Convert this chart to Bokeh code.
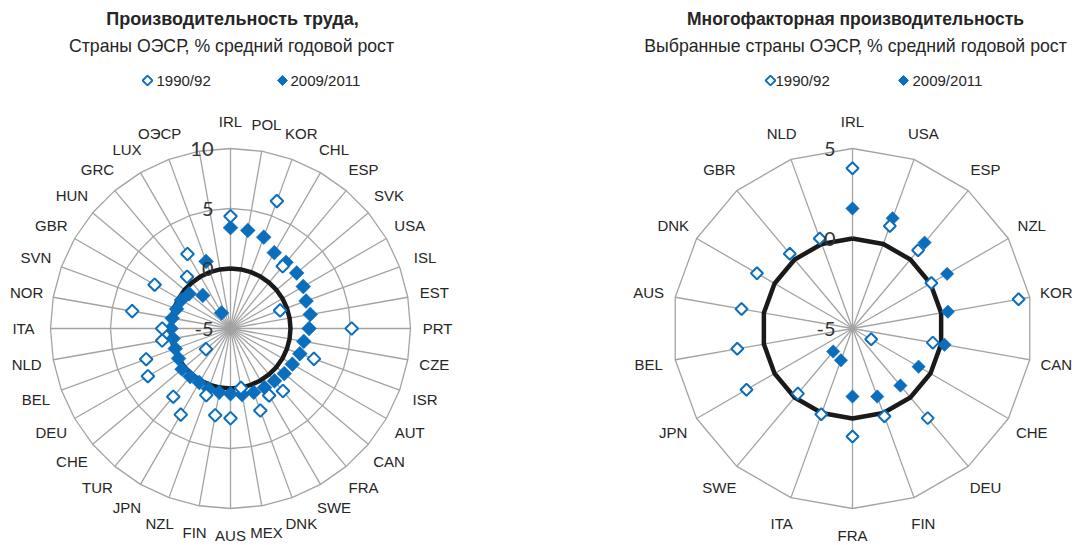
import math
import numpy as np
from bokeh.plotting import figure
from bokeh.layouts import row
from bokeh.models import Range1d, Label
from bokeh.core.properties import value
from bokeh.embed import file_html
from bokeh.resources import INLINE

# ---------------- data ----------------
LEFT_CATS = ["IRL", "POL", "KOR", "CHL", "ESP", "SVK", "USA", "ISL", "EST", "PRT",
             "CZE", "ISR", "AUT", "CAN", "FRA", "SWE", "DNK", "MEX", "AUS", "FIN",
             "NZL", "JPN", "TUR", "CHE", "DEU", "BEL", "NLD", "ITA", "NOR", "SVN",
             "GBR", "HUN", "GRC", "LUX", "ОЭСР", ""]
NAN = float("nan")
LEFT_1990 = [4.35, NAN, 6.3, NAN, 1.77, NAN, NAN, -0.6, NAN, 5.1,
             NAN, 2.4, NAN, NAN, 1.8, 1.44, 2.27, 0.03, 2.48, 2.34,
             0.91, 3.29, 2.42, -2.33, 2.95, 2.48, 0.78, 0.69, 3.32, NAN,
             2.3, NAN, 0.63, 2.17, NAN, NAN]
LEFT_2009 = [3.4, 3.3, 3.1, 2.3, 2.2, 2.2, 2.0, 1.7, 1.75, 1.55,
             1.2, 1.15, 0.95, 0.85, 0.7, 0.68, 0.66, 0.6, 0.44, 0.4,
             0.34, 0.2, 0.23, 0.27, 0.0, -0.1, -0.15, -0.05, -0.07, -0.22,
             -0.27, -0.5, -1.4, -3.5, 0.95, NAN]
LEFT_TICKS = [-5, 0, 5, 10]

RIGHT_CATS = ["IRL", "USA", "ESP", "NZL", "KOR", "CAN", "CHE", "DEU", "FIN",
              "FRA", "ITA", "SWE", "JPN", "BEL", "AUS", "DNK", "GBR", "NLD"]
RIGHT_1990 = [3.9, 1.06, 0.67, 0.06, 4.37, -0.47, -3.8, 1.5, 0.19,
              1.0, 0.07, -0.28, 1.8, 1.5, 1.26, 1.13, 0.42, 0.32]
RIGHT_2009 = [1.67, 1.52, 1.23, 1.07, 0.38, 0.19, -0.76, -0.86, -0.98,
              -1.22, -3.12, -3.33, NAN, NAN, NAN, NAN, NAN, NAN]
RIGHT_TICKS = [-5, 0, 5]

SERIES_NAMES = ["1990/92", "2009/2011"]
ZERO_VALUE = 0

BLUE = "#0A6EBD"
GRID = "#A3A3A3"
FONT = "Liberation Sans"
TICK_FONT = "Lato"
TXT = "#262626"

H = 545


def radar(width, scale, cx, cy, cats, old, new, ticks, title, subtitle,
          title_x, title_size, sub_x, leg, label_r_px, size_new, size_old):
    p = figure(width=width, height=H, output_backend="svg", toolbar_location=None,
               x_axis_type=None, y_axis_type=None, min_border=0,
               x_range=Range1d(-cx / scale, (width - cx) / scale),
               y_range=Range1d(-(H - cy) / scale, cy / scale))
    p.grid.visible = False
    p.outline_line_color = None
    p.background_fill_color = "white"

    n = len(cats)
    vmin = ticks[0]
    th = np.array([2 * math.pi * i / n for i in range(n)])
    s, c = np.sin(th), np.cos(th)
    rmax = ticks[-1] - vmin

    # spokes
    p.segment(x0=np.zeros(n), y0=np.zeros(n), x1=rmax * s, y1=rmax * c,
              line_color=GRID, line_width=1.3)
    # rings
    xs, ys = [], []
    for t in ticks[1:]:
        r = t - vmin
        xs.append(list(r * s) + [r * s[0]])
        ys.append(list(r * c) + [r * c[0]])
    p.multi_line(xs, ys, line_color=GRID, line_width=1.3)

    # zero series (black)
    rz = np.array([ZERO_VALUE - vmin] * n, dtype=float)
    p.line(list(rz * s) + [rz[0] * s[0]], list(rz * c) + [rz[0] * c[0]],
           line_color="#1A1A1A", line_width=4.5)

    # 2009/2011 (filled)
    rn = np.array(new, dtype=float) - vmin
    p.scatter(rn * s, rn * c, marker="square", angle=math.pi / 4, size=size_new,
              fill_color=BLUE, line_color=BLUE, line_width=0.5)
    # 1990/92 (hollow)
    ro = np.array(old, dtype=float) - vmin
    p.scatter(ro * s, ro * c, marker="square", angle=math.pi / 4, size=size_old,
              fill_color="white", line_color=BLUE, line_width=2)

    # category labels
    lr = label_r_px / scale
    p.text(lr * s, lr * c, text=cats, text_align="center", text_baseline="middle",
           text_font=value(FONT), text_font_size="15px", text_color=TXT)

    # tick labels
    tr = [t - vmin for t in ticks]
    p.text(np.zeros(len(ticks)), tr, text=[str(t) for t in ticks], x_offset=-17,
           text_align="right", text_baseline="middle", text_font=value(TICK_FONT),
           text_font_size="20px", text_color="#333333")

    # titles
    p.add_layout(Label(x=title_x, y=H - 18, x_units="screen", y_units="screen",
                       text=title, text_align="center", text_baseline="middle",
                       text_font=FONT, text_font_size=title_size, text_font_style="bold",
                       text_color=TXT))
    p.add_layout(Label(x=sub_x, y=H - 45, x_units="screen", y_units="screen",
                       text=subtitle, text_align="center", text_baseline="middle",
                       text_font=FONT, text_font_size="17.7px", text_color=TXT))

    # legend
    ly = (cy - 80) / scale
    (m1, t1), (m2, t2) = leg
    p.scatter([(m1 - cx) / scale], [ly], marker="square", angle=math.pi / 4, size=7,
              fill_color="white", line_color=BLUE, line_width=1.8)
    p.scatter([(m2 - cx) / scale], [ly], marker="square", angle=math.pi / 4, size=7,
              fill_color=BLUE, line_color=BLUE)
    for tx, name in ((t1, SERIES_NAMES[0]), (t2, SERIES_NAMES[1])):
        p.add_layout(Label(x=tx, y=H - 80, x_units="screen", y_units="screen",
                           text=name, text_align="left", text_baseline="middle",
                           text_font=FONT, text_font_size="15px", text_color=TXT))
    return p


left = radar(548, 12, 230, 328, LEFT_CATS, LEFT_1990, LEFT_2009, LEFT_TICKS,
             "Производительность труда,", "Страны ОЭСР, % средний годовой рост",
             232, "18px", 231, ((147, 156), (282, 290)), 207, 10.5, 9)
right = radar(535, 18, 304, 328, RIGHT_CATS, RIGHT_1990, RIGHT_2009, RIGHT_TICKS,
              "Многофакторная производительность",
              "Выбранные страны ОЭСР, % средний годовой рост",
              307, "17.5px", 307, ((222, 227), (355, 364)), 207, 9.5, 8.5)

layout = row(left, right)
open("out.html", "w").write(file_html(layout, INLINE))
